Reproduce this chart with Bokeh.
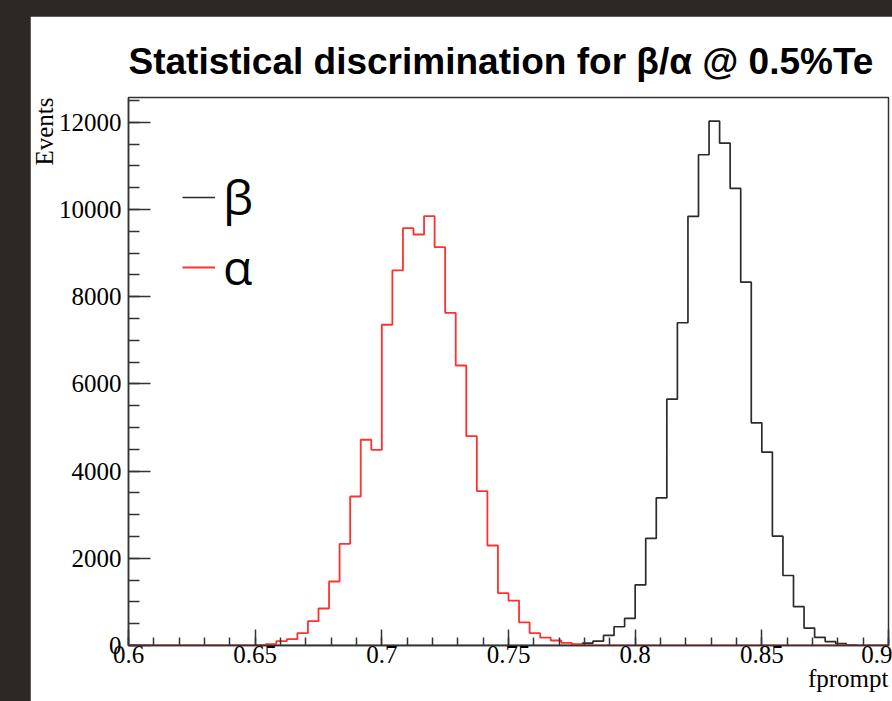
import numpy as np
from bokeh.plotting import figure
from bokeh.models import (Range1d, FixedTicker, CustomJSTickFormatter, Title,
                          Legend, LegendItem)
from bokeh.layouts import column
from bokeh.embed import file_html
from bokeh.resources import INLINE

# ---- data ----
x_lo, x_hi, n_bins = 0.6, 0.9, 72
y_top = 12570

alpha_counts = [0, 0, 0, 0, 0, 0, 0, 0, 0, 0, 0, 0,
                10, 30, 99, 145, 282, 558, 849, 1468,
                2333, 3418, 4719, 4488, 7357, 8603, 9573, 9428,
                9848, 9137, 7632, 6423, 4802, 3540, 2294, 1200,
                1030, 530, 282, 180, 115, 61, 30, 10,
                0, 0, 0, 0, 0, 0, 0, 0, 0, 0, 0, 0, 0, 0,
                0, 0, 0, 0, 0, 0, 0, 0, 0, 0, 0, 0, 0, 0]

beta_counts = [0] * 42 + [15, 53, 99, 230, 430, 620, 1392, 2455,
                          3388, 5650, 7403, 9841, 11257, 12028, 11523, 10484,
                          8334, 5108, 4435, 2508, 1606, 890, 400, 187,
                          90, 45, 10] + [0, 0, 0]

x_ticks = [0.6, 0.65, 0.7, 0.75, 0.8, 0.85, 0.9]
y_ticks = [0, 2000, 4000, 6000, 8000, 10000, 12000]
title_text = "Statistical discrimination for β/α @ 0.5%Te"
x_label = "fprompt"
y_label = "Events"
legend_labels = ["β", "α"]

edges = np.linspace(x_lo, x_hi, n_bins + 1)

p = figure(width=862, height=685,
           x_range=Range1d(x_lo, x_hi), y_range=Range1d(0, y_top),
           output_backend="svg", toolbar_location=None,
           min_border_left=98, min_border_right=4,
           min_border_top=81, min_border_bottom=56)
p.margin = (16, 0, 0, 30)
p.background_fill_color = "white"
p.border_fill_color = "white"
p.grid.visible = False
p.outline_line_color = "#333333"
p.outline_line_width = 1.5

# title
p.title.text = title_text
p.title.text_font = "Liberation Sans"
p.title.text_font_size = "37px"
p.title.text_font_style = "bold"
p.title.text_color = "black"
p.title.align = "left"
p.title.standoff = 31

# histograms
rb = p.step(x=edges, y=beta_counts + [beta_counts[-1]], mode="after",
            line_color="#2b2b2b", line_width=1.7)
ra = p.step(x=edges, y=alpha_counts + [alpha_counts[-1]], mode="after",
            line_color="#ff3030", line_width=1.8)

# axes
minor_x = [round(v, 2) for v in np.arange(x_lo, x_hi + 1e-9, 0.01)]
minor_y = list(range(0, 12501, 500))
p.xaxis.ticker = FixedTicker(ticks=x_ticks, minor_ticks=minor_x)
p.yaxis.ticker = FixedTicker(ticks=y_ticks, minor_ticks=minor_y)
p.xaxis.formatter = CustomJSTickFormatter(code="return parseFloat(tick.toFixed(3)).toString();")
for ax in (p.xaxis, p.yaxis):
    ax.axis_line_color = "#333333"
    ax.axis_line_width = 1.5
    ax.major_tick_line_color = "#333333"
    ax.minor_tick_line_color = "#333333"
    ax.major_tick_line_width = 1.5
    ax.minor_tick_line_width = 1.5
    ax.major_tick_out = 0
    ax.minor_tick_out = 0
    ax.major_label_text_font = "Liberation Serif"
    ax.major_label_text_font_size = "25px"
    ax.major_label_text_color = "black"
p.xaxis.major_tick_in = 16
p.xaxis.minor_tick_in = 8
p.xaxis.major_label_standoff = 0
p.yaxis.major_tick_in = 22
p.yaxis.minor_tick_in = 11
p.yaxis.major_label_standoff = 7

# axis titles, placed at the ends of the axes (ROOT style)
p.add_layout(Title(text=x_label, align="right", standoff=-6,
                   text_font="Liberation Serif", text_font_size="25px",
                   text_font_style="normal", text_color="black"), "below")
p.add_layout(Title(text=y_label, align="right", standoff=-5,
                   text_font="Liberation Serif", text_font_size="25px",
                   text_font_style="normal", text_color="black"), "left")

legend = Legend(items=[LegendItem(label=legend_labels[0], renderers=[rb]),
                       LegendItem(label=legend_labels[1], renderers=[ra])],
                location=(54, 346))
legend.label_text_font = "Open Sans"
legend.label_text_font_size = "48px"
legend.label_text_color = "black"
legend.glyph_width = 33
legend.label_standoff = 8
legend.spacing = 5
legend.padding = 0
legend.margin = 0
legend.border_line_alpha = 0
legend.background_fill_alpha = 0
p.add_layout(legend)

page = column(p, width=892, height=701,
              styles={"background-color": "#2e2824"})

open("out.html", "w").write(file_html(page, INLINE))
